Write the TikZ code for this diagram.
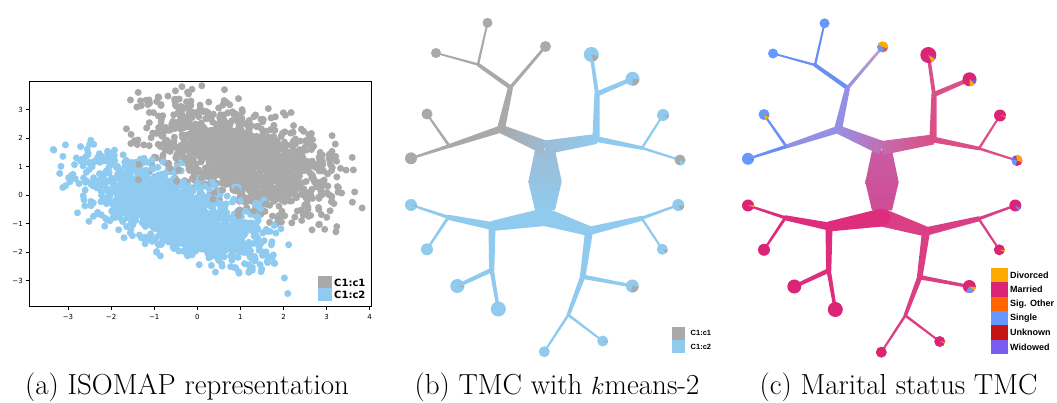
\documentclass[tikz,border=0pt]{standalone}
\usepackage{fontspec}
\newfontfamily\djv{DejaVu Sans}
\newfontfamily\lib{Liberation Sans}
\usetikzlibrary{calc}
\definecolor{sgray}{HTML}{A9A9A9}
\definecolor{sblue}{HTML}{8FCBF0}
\definecolor{tgray}{HTML}{A9A9A9}
\definecolor{tgb}{HTML}{9DBCD6}
\definecolor{tblue}{HTML}{90CAEE}
\definecolor{cblue}{HTML}{6A8FF2}
\definecolor{cpurp}{HTML}{9590E6}
\definecolor{cbeige}{HTML}{C8A0C0}
\definecolor{cmauve}{HTML}{C46CAE}
\definecolor{cpink}{HTML}{DA4F86}
\definecolor{ctrunk}{HTML}{C85BA4}
\definecolor{ctrunkb}{HTML}{D04C96}
\definecolor{cmag}{HTML}{DD2D7C}
\definecolor{cmagr}{HTML}{DA3F85}
\definecolor{dyel}{HTML}{FFAA00}
\definecolor{dmar}{HTML}{DC2477}
\definecolor{dsig}{HTML}{FF6600}
\definecolor{dsing}{HTML}{6699FF}
\definecolor{dunk}{HTML}{C41414}
\definecolor{dwid}{HTML}{7B5CF0}

\newcommand\taper[5]{\path[#1] ($(#2)!#4pt!90:(#3)$) -- ($(#2)!#4pt!-90:(#3)$) -- ($(#3)!#5pt!90:(#2)$) -- ($(#3)!#5pt!-90:(#2)$) -- cycle;}
\newcommand\leafdot[3]{\fill[#3] (#1) circle (#2pt);}
\newcommand\pie[5]{\fill[#1] (#2) -- ++(#3:#5pt) arc[start angle=#3, end angle=#4, radius=#5pt] -- cycle;}

\newcommand\treecoords[1]{%
 \coordinate (#1L1) at (487.5,-22.8);
 \coordinate (#1L2) at (436,-53);
 \coordinate (#1L3) at (545.5,-46.5);
 \coordinate (#1L4) at (427,-114);
 \coordinate (#1L5) at (411,-158.3);
 \coordinate (#1L6) at (591.3,-54.5);
 \coordinate (#1L7) at (632.5,-78.8);
 \coordinate (#1L8) at (663,-115);
 \coordinate (#1L9) at (680,-160);
 \coordinate (#1J1) at (478,-64.5);
 \coordinate (#1J2) at (510.5,-87.5);
 \coordinate (#1J3) at (501,-129);
 \coordinate (#1J4) at (449.3,-146);
 \coordinate (#1Rt) at (545,-147.5);
 \coordinate (#1J5) at (596,-139);
 \coordinate (#1J6) at (597,-94);
 \coordinate (#1J7) at (642,-148);
 \coordinate (#1T1) at (535,-150);
 \coordinate (#1T2) at (555,-150);
 \coordinate (#1T3) at (561.7,-181.7);
 \coordinate (#1T4) at (555,-210);
 \coordinate (#1T5) at (535,-210);
 \coordinate (#1T6) at (528.3,-181.7);
 \coordinate (#1Rb) at (545,-217);
 \coordinate (#1JL) at (492,-226);
 \coordinate (#1JR) at (589,-231);
 \coordinate (#1J8) at (448.3,-217.3);
 \coordinate (#1L10) at (411,-205);
 \coordinate (#1L11) at (427,-249.3);
 \coordinate (#1J9) at (491.7,-270);
 \coordinate (#1L12) at (457.3,-286);
 \coordinate (#1L13) at (498.3,-309);
 \coordinate (#1J10) at (641.7,-218.3);
 \coordinate (#1L14) at (678.3,-205);
 \coordinate (#1L15) at (662.3,-249.3);
 \coordinate (#1J11) at (582.7,-276.7);
 \coordinate (#1L16) at (632.3,-286);
 \coordinate (#1J12) at (568.3,-315);
 \coordinate (#1L17) at (544.3,-351.7);
 \coordinate (#1L18) at (602.7,-341);
}

\newcommand\treeedges[1]{%
 \path[#1-trunk] (#1T1) -- (#1T2) -- (#1T3) -- (#1T4) -- (#1T5) -- (#1T6) -- cycle;
 \taper{#1-ul}{#1L1}{#1J1}{0.9}{1.2}
 \taper{#1-ul}{#1L2}{#1J1}{0.9}{1.2}
 \taper{#1-ul}{#1J1}{#1J2}{1.8}{2.2}
 \taper{#1-ul3}{#1J2}{#1L3}{1.7}{1.3}
 \taper{#1-ulm}{#1J2}{#1J3}{2.5}{4}
 \taper{#1-ul}{#1L4}{#1J4}{1}{1.4}
 \taper{#1-ul}{#1L5}{#1J4}{1.1}{1.8}
 \taper{#1-ulm}{#1J4}{#1J3}{2}{3.6}
 \taper{#1-lroot}{#1J3}{#1Rt}{4.2}{7}
 \taper{#1-rroot}{#1Rt}{#1J5}{7}{5}
 \taper{#1-ur}{#1J5}{#1J6}{3.6}{2.6}
 \taper{#1-ur}{#1J6}{#1L6}{2}{1.6}
 \taper{#1-ur}{#1J6}{#1L7}{2.5}{2}
 \taper{#1-ur}{#1J5}{#1J7}{3}{1.8}
 \taper{#1-ur}{#1J7}{#1L8}{1.2}{1}
 \taper{#1-ur}{#1J7}{#1L9}{1.3}{1}
 \fill[#1-ul] (#1J1) circle (1.3pt);
 \fill[#1-ul] (#1J4) circle (1.8pt);
 \fill[#1-ur] (#1J6) circle (2.6pt);
 \fill[#1-ur] (#1J7) circle (1.8pt);
 \fill[#1-ur] (#1J5) circle (4pt);
 \taper{#1-low}{#1Rb}{#1JL}{9}{5}
 \taper{#1-lowr}{#1Rb}{#1JR}{9}{5}
 \fill[#1-low] (#1Rb) circle (8.5pt);
 \taper{#1-low}{#1JL}{#1J8}{4}{2.5}
 \taper{#1-low}{#1J8}{#1L10}{1.6}{1.1}
 \taper{#1-low}{#1J8}{#1L11}{1.5}{1.1}
 \taper{#1-low}{#1JL}{#1J9}{3.5}{2.6}
 \taper{#1-low}{#1J9}{#1L12}{2.3}{1.8}
 \taper{#1-low}{#1J9}{#1L13}{2.2}{1.6}
 \taper{#1-lowr}{#1JR}{#1J10}{4.2}{2.5}
 \taper{#1-lowr}{#1J10}{#1L14}{1.6}{1.1}
 \taper{#1-lowr}{#1J10}{#1L15}{1.2}{1}
 \taper{#1-lowr}{#1JR}{#1J11}{4}{2.8}
 \taper{#1-lowr}{#1J11}{#1L16}{2.2}{1.5}
 \taper{#1-lowr}{#1J11}{#1J12}{2.6}{1.8}
 \taper{#1-lowr}{#1J12}{#1L17}{1.3}{1}
 \taper{#1-lowr}{#1J12}{#1L18}{1.3}{1}
 \fill[#1-low] (#1JL) circle (4.5pt);
 \fill[#1-lowr] (#1JR) circle (4.5pt);
 \fill[#1-low] (#1J8) circle (2.4pt);
 \fill[#1-low] (#1J9) circle (2.5pt);
 \fill[#1-lowr] (#1J10) circle (2.4pt);
 \fill[#1-lowr] (#1J11) circle (2.7pt);
 \fill[#1-lowr] (#1J12) circle (1.8pt);
}

\tikzset{
 b-ul/.style={fill=tgray}, b-ul3/.style={fill=tgray}, b-ulm/.style={fill=tgray},
 b-lroot/.style={left color=tgray, right color=tgb},
 b-rroot/.style={left color=tgb, right color=tblue},
 b-ur/.style={fill=tblue}, b-trunk/.style={top color=tgb, bottom color=tblue},
 b-low/.style={fill=tblue}, b-lowr/.style={fill=tblue},
 c-ul/.style={fill=cblue}, c-ul3/.style={left color=cpurp, right color=cbeige}, c-ulm/.style={fill=cpurp},
 c-lroot/.style={left color=cpurp, right color=cmauve},
 c-rroot/.style={left color=cmauve, right color=cpink},
 c-ur/.style={fill=cpink}, c-trunk/.style={top color=ctrunk, bottom color=ctrunkb},
 c-low/.style={fill=cmag}, c-lowr/.style={fill=cmagr},
 ticklab/.style={font=\djv\fontsize{7}{8}\selectfont, inner sep=0pt},
 captext/.style={font=\fontsize{29}{34}\selectfont, anchor=base, inner sep=0pt},
 legA/.style={font=\djv\bfseries\fontsize{10}{12}\selectfont, anchor=west, inner sep=0pt},
 legB/.style={font=\lib\bfseries\fontsize{7.5}{9}\selectfont, anchor=west, inner sep=0pt},
 legC/.style={font=\lib\bfseries\fontsize{9}{11}\selectfont, anchor=west, inner sep=0pt},
}

\newcommand\graydot{%
 \pgfmathsetmacro\sa{rand+rand+rand}%
 \pgfmathsetmacro\sb{rand+rand+rand}%
 \pgfmathsetmacro\px{1.0+1.0*\sa}%
 \pgfmathsetmacro\py{1.3-0.45*1.0*\sa+0.8*\sb}%
 \fill[sgray] (\px,\py) circle (3.5pt);}
\newcommand\bluedot{%
 \pgfmathsetmacro\sa{rand+rand+rand}%
 \pgfmathsetmacro\sb{rand+rand+rand}%
 \pgfmathsetmacro\px{-0.55+1.0*\sa}%
 \pgfmathsetmacro\py{-0.55-0.56*1.0*\sa+0.62*\sb}%
 \fill[sblue] (\px,\py) circle (3.5pt);}

\begin{document}
\begin{tikzpicture}[x=1pt,y=1pt]
\useasboundingbox[fill=white] (0,0) rectangle (1057,-403);

% ---------- panel (a) ----------
\begin{scope}
\clip (29.3,-81.7) rectangle (371,-306);
\begin{scope}[shift={(197.3,-195.3)}, x=43.1pt, y=28.5pt]
\pgfmathsetseed{4}
\foreach \i in {1,...,1200}{\graydot}
\foreach \i in {1,...,1500}{\bluedot}
\foreach \i in {1,...,150}{\graydot}
\end{scope}
\end{scope}
\draw[line width=0.8pt] (29.3,-81.7) rectangle (371,-306);
\foreach \k/\lab in {-3/−3,-2/−2,-1/−1,0/0,1/1,2/2,3/3,4/4}{%
 \pgfmathsetmacro\tx{197.3+43.1*\k}%
 \draw[line width=0.6pt] (\tx,-306) -- (\tx,-309.5);
 \node[ticklab] (xt\k) at (\tx,-316.5) {\lab};}
\foreach \k/\lab in {-3/−3,-2/−2,-1/−1,0/0,1/1,2/2,3/3}{%
 \pgfmathsetmacro\ty{-195.3+28.5*\k}%
 \draw[line width=0.6pt] (29.3,\ty) -- (25.8,\ty);
 \node[ticklab, anchor=east] (yt\k) at (23,\ty) {\lab};}
\fill[sgray] (318,-276) rectangle (332,-288.5);
\fill[sblue] (318,-288.5) rectangle (332,-301);
\node[legA] (la1) at (334,-282.5) {C1:c1};
\node[legA] (la2) at (334,-295) {C1:c2};

% ---------- panel (b) ----------
\begin{scope}
\treecoords{b}
\end{scope}
\treeedges{b}
\foreach \n/\r in {L1/5,L2/5,L3/5.5,L4/5.5,L5/6,L9/5.5}{\leafdot{b\n}{\r}{tgray}}
\foreach \n/\r in {L6/7.5,L7/7,L8/6,L10/6,L11/6,L12/7,L13/7.5,L14/6,L15/5.5,L16/6.5,L17/5.5,L18/5.5}{\leafdot{b\n}{\r}{tblue}}
\pie{tgray}{bL6}{-70}{-15}{7.5}
\pie{tgray}{bL7}{-90}{-5}{7}
\pie{tgray}{bL8}{-30}{-5}{6}
\pie{tblue}{bL9}{-90}{-30}{5.5}
\pie{tgray}{bL10}{-15}{0}{6}
\pie{tgray}{bL14}{-60}{-10}{6}
\pie{tgray}{bL15}{-40}{-10}{5.5}
\pie{tgray}{bL16}{-100}{-5}{6.5}
\pie{tgray}{bL18}{-20}{-5}{5.5}
\pie{tgray}{bL12}{-10}{0}{7}
\fill[tgray] (672,-326.7) rectangle (685,-340);
\fill[tblue] (672,-340) rectangle (685,-353.3);
\node[legB] (lb1) at (690.5,-333.3) {C1:c1};
\node[legB] (lb2) at (690.5,-346.7) {C1:c2};

% ---------- panel (c) ----------
\begin{scope}[shift={(337,-0.5)}]
\treecoords{c}
\end{scope}
\treeedges{c}
\foreach \n/\r in {L1/5,L2/5,L3/5.5,L4/5.5,L5/6}{\leafdot{c\n}{\r}{dsing}}
\foreach \n/\r in {L6/8,L7/7,L8/6,L9/5.5,L10/6,L11/6,L12/7,L13/7.5,L14/6,L15/5.5,L16/6.5,L17/5.5,L18/5.5}{\leafdot{c\n}{\r}{dmar}}
\pie{dsig}{cL1}{-12}{0}{5}
\pie{dyel}{cL3}{-20}{150}{5.5}
\pie{dwid}{cL3}{-40}{-20}{5.5}
\pie{dsig}{cL3}{-80}{-40}{5.5}
\pie{dyel}{cL4}{-70}{-25}{5.5}
\pie{dsig}{cL4}{-25}{-12}{5.5}
\pie{dsig}{cL5}{-15}{-3}{6}
\pie{dyel}{cL6}{-65}{-30}{8}
\pie{dwid}{cL6}{-30}{-18}{8}
\pie{dyel}{cL7}{-90}{-40}{7}
\pie{dwid}{cL7}{-40}{-12}{7}
\pie{dyel}{cL8}{-15}{-4}{6}
\pie{dyel}{cL9}{-20}{100}{5.5}
\pie{dwid}{cL9}{120}{165}{5.5}
\pie{dsing}{cL9}{165}{255}{5.5}
\pie{dyel}{cL10}{-15}{0}{6}
\pie{dsing}{cL14}{-60}{-35}{6}
\pie{dwid}{cL14}{-35}{-15}{6}
\pie{dyel}{cL15}{-20}{-5}{5.5}
\pie{dyel}{cL16}{-40}{-5}{6.5}
\pie{dsing}{cL16}{-120}{-40}{6.5}
\pie{dyel}{cL18}{-20}{-5}{5.5}
\foreach \c/\lab [count=\i from 0] in {dyel/Divorced,dmar/Married,dsig/Sig. Other,dsing/Single,dunk/Unknown,dwid/Widowed}{%
 \pgfmathsetmacro\ly{-267.7-14.4*\i}%
 \fill[\c] (991,\ly) rectangle (1007.5,\ly-14.4);
 \node[legC] (lc\i) at (1010,\ly-7.2) {\lab};}

% ---------- captions ----------
\node[captext] (capa) at (187,-394) {(a) ISOMAP representation};
\node[captext] (capb) at (557,-394) {(b) TMC with $k$means-2};
\node[captext] (capc) at (898.5,-394) {(c) Marital status TMC};
\end{tikzpicture}
\end{document}
